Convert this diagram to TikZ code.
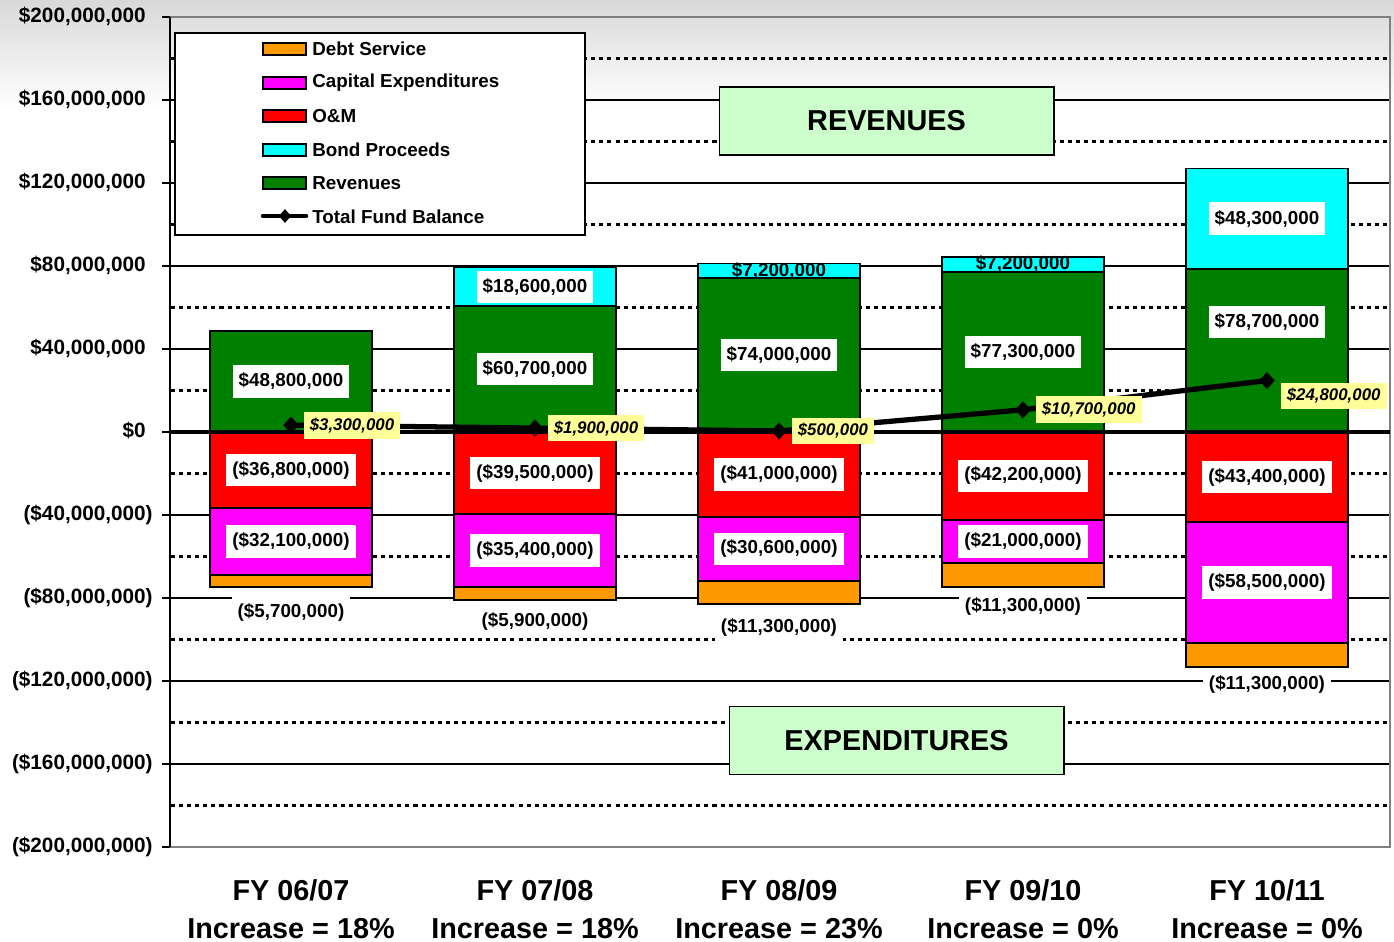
\documentclass[tikz,border=0pt]{standalone}
\usepackage{fontspec}
\setmainfont{Liberation Sans}
\usetikzlibrary{positioning, shapes.geometric}

\definecolor{revgreen}{HTML}{008000}
\definecolor{bondcyan}{HTML}{00FFFF}
\definecolor{omred}{HTML}{FF0000}
\definecolor{capmagenta}{HTML}{FF00FF}
\definecolor{debtorange}{HTML}{FF9900}
\definecolor{balyellow}{HTML}{FFFF99}
\definecolor{tagmint}{HTML}{CCFFCC}
\definecolor{framegray}{HTML}{808080}

\tikzset{
  barpart/.style={draw=black, line width=1.1pt},
  majorgrid/.style={line width=1pt},
  minorgrid/.style={line width=1.2pt, dash pattern=on 2.3pt off 2.3pt},
  vallabel/.style={fill=white, font=\fontsize{10.7}{12}\selectfont\bfseries,
    inner xsep=3.5pt, inner ysep=0pt, minimum height=18.5pt},
  ballabel/.style={fill=balyellow, font=\fontsize{9.6}{11}\selectfont\bfseries\itshape,
    inner xsep=3.5pt, inner ysep=0pt, minimum height=15.3pt},
  balmark/.style={diamond, fill=black, inner sep=0pt, minimum width=9pt, minimum height=10pt},
  ticklabel/.style={anchor=east, inner sep=0pt, font=\fontsize{11.8}{13}\selectfont\bfseries},
  legtext/.style={anchor=west, inner sep=0pt, font=\fontsize{10.7}{12}\selectfont\bfseries},
  sidetag/.style={draw=black, fill=tagmint, line width=0.6pt, minimum width=6.7cm,
    minimum height=1.36cm, font=\fontsize{16.4}{18}\selectfont\bfseries},
  catlabel/.style={align=center, inner sep=0pt, font=\fontsize{16.4}{21.5}\selectfont\bfseries}
}

\begin{document}
\begin{tikzpicture}[x=0.02cm, y=-0.02cm]
\useasboundingbox (0,0) rectangle (1394,942);
% slide background
\shade[top color=black!15, bottom color=white] (0,0) rectangle (1394,110);

\begin{scope}[shift={(0,432)}, y=0.0415cm]
  % grid lines
  \foreach \v in {160,120,80,40,-40,-80,-120,-160}
    \draw[majorgrid] (170,\v) -- (1390,\v);
  \foreach \v in {180,140,100,60,20,-20,-60,-100,-140,-180}
    \draw[minorgrid] (171,\v) -- (1388,\v);
  % plot frame and value axis
  \draw[framegray, line width=1.2pt] (170,200) -- (1390,200) -- (1390,-200) -- (170,-200);
  \draw[line width=1.1pt] (170,200) -- (170,-200);
  \foreach \v in {200,160,...,-200}
    \draw[line width=1.1pt] (162,\v) -- (170,\v);
  \foreach \v in {180,140,...,-180}
    \draw[line width=1.1pt] (170,\v) -- (174,\v);
  \foreach \v/\t [count=\k] in {200/{\$200,000,000\phantom{)}}, 160/{\$160,000,000\phantom{)}},
      120/{\$120,000,000\phantom{)}}, 80/{\$80,000,000\phantom{)}}, 40/{\$40,000,000\phantom{)}},
      0/{\$0\phantom{)}}, -40/{(\$40,000,000)}, -80/{(\$80,000,000)}, -120/{(\$120,000,000)},
      -160/{(\$160,000,000)}, -200/{(\$200,000,000)}}
    \node[ticklabel] (ylab\k) at (153,\v) {\t};

  % stacked bars
  \foreach \xc/\rev/\bond/\om/\cpx/\debt in {291/48.8/0/36.8/32.1/5.7,
      535/60.7/18.6/39.5/35.4/5.9, 779/74.0/7.2/41.0/30.6/11.3,
      1023/77.3/7.2/42.2/21.0/11.3, 1267/78.7/48.3/43.4/58.5/11.3} {
    \pgfmathsetmacro\xl{\xc-81}
    \pgfmathsetmacro\xr{\xc+81}
    \pgfmathsetmacro\ta{\rev+\bond}
    \pgfmathsetmacro\ba{-\om-\cpx}
    \pgfmathsetmacro\bb{\ba-\debt}
    \draw[barpart, fill=revgreen] (\xl,0) rectangle (\xr,\rev);
    \draw[barpart, fill=bondcyan] (\xl,\rev) rectangle (\xr,\ta);
    \draw[barpart, fill=omred] (\xl,0) rectangle (\xr,-\om);
    \draw[barpart, fill=capmagenta] (\xl,-\om) rectangle (\xr,\ba);
    \draw[barpart, fill=debtorange] (\xl,\ba) rectangle (\xr,\bb);
  }
  \draw[line width=2.8pt] (170,0) -- (1390,0);

  % total fund balance
  \node[balmark] (bal1) at (291,3.3) {};
  \node[balmark] (bal2) at (535,1.9) {};
  \node[balmark] (bal3) at (779,0.5) {};
  \node[balmark] (bal4) at (1023,10.7) {};
  \node[balmark] (bal5) at (1267,24.8) {};
  \draw[line width=3pt] (bal1.center) -- (bal2.center) -- (bal3.center)
    -- (bal4.center) -- (bal5.center);

  % revenues
  \node[vallabel] (rev1) at (291,24.4) {\$48,800,000};
  \node[vallabel] (rev2) at (535,30.35) {\$60,700,000};
  \node[vallabel] (rev3) at (779,37.0) {\$74,000,000};
  \node[vallabel] (rev4) at (1023,38.65) {\$77,300,000};
  \node[vallabel] (rev5) at (1267,53) {\$78,700,000};
  % bond proceeds
  \node[vallabel] (bond2) at (535,70) {\$18,600,000};
  \node[vallabel, fill=none] (bond3) at (779,77.6) {\$7,200,000};
  \node[vallabel, fill=none] (bond4) at (1023,80.9) {\$7,200,000};
  \node[vallabel] (bond5) at (1267,102.85) {\$48,300,000};
  % o&m
  \node[vallabel] (om1) at (291,-18.4) {(\$36,800,000)};
  \node[vallabel] (om2) at (535,-19.75) {(\$39,500,000)};
  \node[vallabel] (om3) at (779,-20.5) {(\$41,000,000)};
  \node[vallabel] (om4) at (1023,-21.1) {(\$42,200,000)};
  \node[vallabel] (om5) at (1267,-21.7) {(\$43,400,000)};
  % capital expenditures
  \node[vallabel] (cap1) at (291,-52.85) {(\$32,100,000)};
  \node[vallabel] (cap2) at (535,-57.2) {(\$35,400,000)};
  \node[vallabel] (cap3) at (779,-56.3) {(\$30,600,000)};
  \node[vallabel] (cap4) at (1023,-52.7) {(\$21,000,000)};
  \node[vallabel] (cap5) at (1267,-72.65) {(\$58,500,000)};
  % debt service
  \node[vallabel] (debt1) at (291,-87.2) {(\$5,700,000)};
  \node[vallabel] (debt2) at (535,-91.1) {(\$5,900,000)};
  \node[vallabel] (debt3) at (779,-94.0) {(\$11,300,000)};
  \node[vallabel] (debt4) at (1023,-84.3) {(\$11,300,000)};
  \node[vallabel] (debt5) at (1267,-121.9) {(\$11,300,000)};

  % balance values
  \node[ballabel, right=0.08cm of bal1] (baltxt1) {\$3,300,000};
  \node[ballabel, right=0.08cm of bal2] (baltxt2) {\$1,900,000};
  \node[ballabel, right=0.08cm of bal3] (baltxt3) {\$500,000};
  \node[ballabel, right=0.08cm of bal4] (baltxt4) {\$10,700,000};
  \node[ballabel, right=0.1cm of bal5, yshift=-0.31cm] (baltxt5) {\$24,800,000};
\end{scope}

% legend
\draw[fill=white, line width=0.6pt] (175,33) rectangle (585,235);
\draw[fill=debtorange, line width=0.8pt] (263,43) rectangle (306,55);
\draw[fill=capmagenta, line width=0.8pt] (263,77) rectangle (306,89);
\draw[fill=omred, line width=0.8pt] (263,110) rectangle (306,122);
\draw[fill=bondcyan, line width=0.8pt] (263,144) rectangle (306,156);
\draw[fill=revgreen, line width=0.8pt] (263,177) rectangle (306,189);
\node[legtext] (legdebt) at (312,49) {Debt Service};
\node[legtext] (legcap) at (312,83) {Capital Expenditures};
\node[legtext] (legom) at (312,116) {O\&M};
\node[legtext] (legbond) at (312,150) {Bond Proceeds};
\node[legtext] (legrev) at (312,183) {Revenues};
\node[legtext] (legbal) at (312,217) {Total Fund Balance};
\coordinate (leglinea) at (263,216);
\coordinate (leglineb) at (306,216);
\draw[line width=2.6pt, line cap=round] (leglinea) -- (leglineb);
\node[balmark, minimum width=7pt, minimum height=8pt] (legmark) at (285,216) {};

% section tags
\node[sidetag] (revtag) at (886.5,121) {REVENUES};
\node[sidetag] (exptag) at (896.5,740.5) {EXPENDITURES};

% fiscal years
\node[catlabel] (fy1) at (291,909) {FY 06/07\\Increase = 18\%};
\node[catlabel] (fy2) at (535,909) {FY 07/08\\Increase = 18\%};
\node[catlabel] (fy3) at (779,909) {FY 08/09\\Increase = 23\%};
\node[catlabel] (fy4) at (1023,909) {FY 09/10\\Increase = 0\%};
\node[catlabel] (fy5) at (1267,909) {FY 10/11\\Increase = 0\%};
\end{tikzpicture}
\end{document}
